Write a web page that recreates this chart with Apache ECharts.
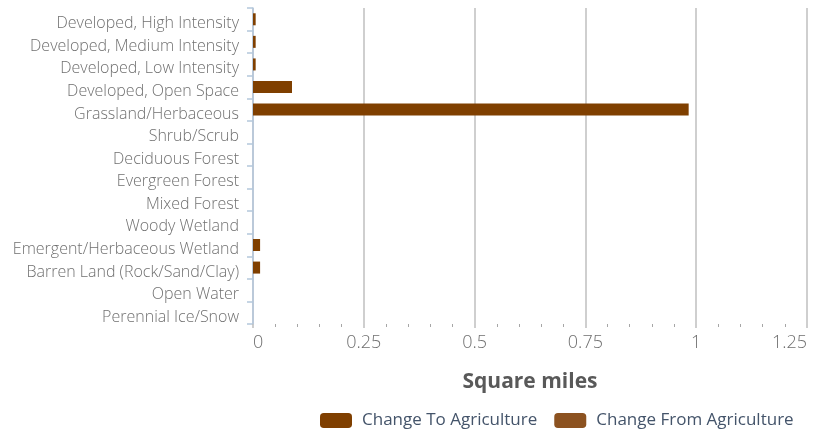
<!DOCTYPE html>
<html>
<head>
<meta charset="utf-8">
<script src="https://cdn.jsdelivr.net/npm/echarts@6/dist/echarts.min.js"></script>
<style>
  html, body { margin: 0; padding: 0; background: #fff; }
  #chart { width: 822px; height: 436px; }
</style>
</head>
<body>
<div id="chart"></div>
<script>
// land cover classes, top to bottom
const categories = [
  'Developed, High Intensity',
  'Developed, Medium Intensity',
  'Developed, Low Intensity',
  'Developed, Open Space',
  'Grassland/Herbaceous',
  'Shrub/Scrub',
  'Deciduous Forest',
  'Evergreen Forest',
  'Mixed Forest',
  'Woody Wetland',
  'Emergent/Herbaceous Wetland',
  'Barren Land (Rock/Sand/Clay)',
  'Open Water',
  'Perennial Ice/Snow'
]
// square miles
const changeTo = [0.006, 0.006, 0.006, 0.088, 0.983, 0, 0, 0, 0, 0, 0.016, 0.016, 0, 0]
const changeFrom = [0, 0, 0, 0, 0, 0, 0, 0, 0, 0, 0, 0, 0, 0]
const xTicks = [0, 0.25, 0.5, 0.75, 1, 1.25]

const chart = echarts.init(document.getElementById('chart'))
const option = {
  animation: false,
  textStyle: { fontFamily: 'Open Sans' },
  grid: { left: 253, right: 15, top: 8, bottom: 112, containLabel: false },
  legend: {
    bottom: 2,
    left: 315,
    itemWidth: 32,
    itemHeight: 15,
    itemGap: 17,
    icon: 'roundRect',
    textStyle: { color: '#44546A', fontSize: 17, padding: [0, 0, 0, 5] },
    data: ['Change To Agriculture', 'Change From Agriculture']
  },
  xAxis: {
    type: 'value',
    min: xTicks[0],
    max: xTicks[xTicks.length - 1],
    interval: 0.25,
    name: 'Square miles',
    nameLocation: 'middle',
    nameGap: 48,
    nameTextStyle: { color: '#595959', fontSize: 21, fontWeight: 'bold' },
    axisLine: { show: false },
    axisTick: { show: true, length: 4, lineStyle: { color: '#BFBFBF', width: 1.5 } },
    minorTick: { show: true, splitNumber: 5, length: 3, lineStyle: { color: '#A6A6A6', width: 1 } },
    splitLine: { show: true, lineStyle: { color: '#BFBFBF', width: 1.5 } },
    axisLabel: {
      color: '#6F6F6F',
      fontSize: 18,
      fontWeight: 300,
      margin: 10,
      alignMinLabel: 'left',
      alignMaxLabel: 'right',
      formatter: v => String(v)
    }
  },
  yAxis: {
    type: 'category',
    inverse: true,
    data: categories,
    axisLine: { show: true, lineStyle: { color: '#B4C7DC', width: 1.5 } },
    axisTick: { show: true, length: 6, lineStyle: { color: '#B4C7DC', width: 1.5 } },
    axisLabel: {
      margin: 14,
      formatter: v => '{c|' + v + '}',
      rich: {
        c: { color: '#707070', fontSize: 16, fontWeight: 300, fontFamily: 'Open Sans', padding: [9, 0, 0, 0] }
      }
    }
  },
  series: [
    {
      name: 'Change To Agriculture',
      type: 'bar',
      data: changeTo,
      barWidth: 12,
      barGap: '-100%',
      itemStyle: { color: '#7F3F00' }
    },
    {
      name: 'Change From Agriculture',
      type: 'bar',
      data: changeFrom,
      barWidth: 12,
      itemStyle: { color: '#8C5220' }
    }
  ]
}
chart.setOption(option)
</script>
</body>
</html>
